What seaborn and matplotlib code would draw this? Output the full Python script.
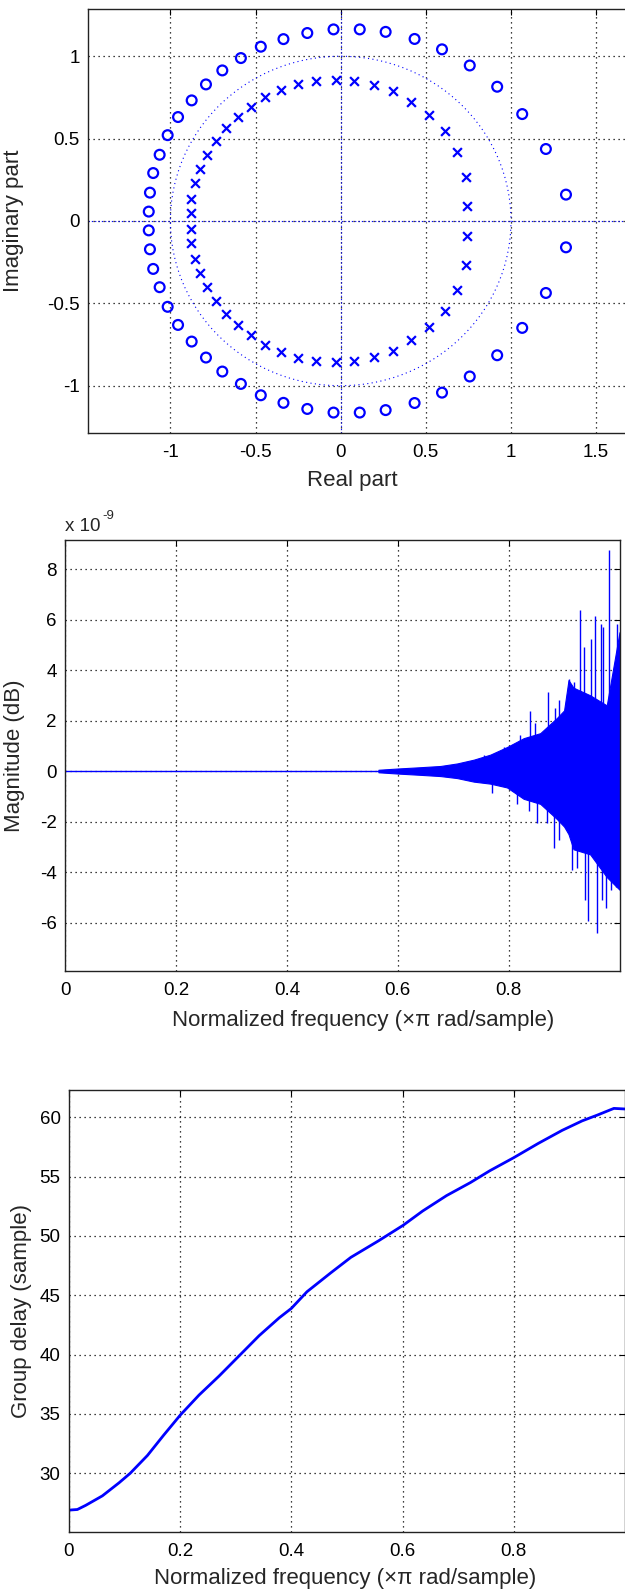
import matplotlib
matplotlib.use("Agg")
import numpy as np
import pandas as pd
import seaborn as sns
import matplotlib.pyplot as plt
from matplotlib.patches import Circle

# ---------------- data ----------------
# zeros (upper half, conjugates mirrored)
zero_re = [-1.127, -1.120, -1.101, -1.063, -1.016, -0.955, -0.875, -0.791, -0.695, -0.586,
           -0.469, -0.336, -0.196, -0.042, 0.112, 0.264, 0.434, 0.595, 0.758, 0.919,
           1.066, 1.205, 1.323]
zero_im = [0.057, 0.172, 0.291, 0.402, 0.521, 0.631, 0.732, 0.829, 0.914, 0.989,
           1.058, 1.104, 1.141, 1.163, 1.163, 1.148, 1.105, 1.042, 0.944, 0.815,
           0.649, 0.437, 0.160]
# poles (upper half, conjugates mirrored)
pole_re = [-0.880, -0.877, -0.856, -0.824, -0.784, -0.733, -0.674, -0.604, -0.527, -0.446,
           -0.348, -0.250, -0.145, -0.030, 0.081, 0.193, 0.305, 0.414, 0.517, 0.610,
           0.682, 0.735, 0.742]
pole_im = [0.047, 0.135, 0.231, 0.317, 0.400, 0.485, 0.564, 0.633, 0.690, 0.750,
           0.795, 0.829, 0.847, 0.855, 0.848, 0.825, 0.790, 0.722, 0.642, 0.546,
           0.417, 0.267, 0.092]

# magnitude response (units of 1e-9 dB)
mag_base_f = [0.0, 1.0]
mag_base_v = [0.0, 0.0]
band_f = [0.565, 0.600, 0.640, 0.677, 0.707, 0.737, 0.767, 0.797, 0.827, 0.857,
          0.887, 0.900, 0.908, 0.917, 0.947, 0.977, 1.000]
band_hi = [0.05, 0.10, 0.15, 0.20, 0.30, 0.45, 0.65, 0.95, 1.30, 1.50,
           2.10, 2.40, 3.60, 3.30, 3.00, 2.60, 5.50]
band_lo = [-0.05, -0.10, -0.15, -0.20, -0.28, -0.42, -0.50, -0.65, -1.10, -1.30,
           -1.90, -2.20, -2.50, -3.10, -3.30, -4.20, -4.70]
spike_f = [0.755, 0.791, 0.821, 0.838, 0.847, 0.871, 0.883, 0.890, 0.899, 0.909,
           0.918, 0.929, 0.936, 0.948, 0.956, 0.966, 0.971, 0.981, 0.989, 0.996,
           0.770, 0.806, 0.815, 0.837, 0.852, 0.870, 0.882, 0.891, 0.915, 0.924,
           0.937, 0.944, 0.959, 0.968, 0.976, 0.985, 0.994]
spike_v = [0.63, 0.96, 1.42, 2.38, 1.90, 3.14, 2.48, 2.80, 2.00, 3.66,
           3.54, 6.37, 4.92, 5.24, 6.13, 5.81, 5.71, 8.74, 3.73, 5.84,
           -0.88, -0.75, -1.31, -1.57, -2.07, -2.07, -3.06, -2.73, -3.92, -3.85,
           -5.10, -5.93, -6.40, -5.10, -5.44, -4.70, -4.60]

# group delay
gd_f = [0.0, 0.015, 0.03, 0.06, 0.09, 0.11, 0.141, 0.170, 0.200, 0.234, 0.270, 0.306,
        0.342, 0.378, 0.400, 0.428, 0.471, 0.507, 0.557, 0.601, 0.636, 0.679,
        0.722, 0.757, 0.800, 0.844, 0.887, 0.923, 0.951, 0.980, 1.000]
gd_v = [26.9, 26.95, 27.3, 28.1, 29.2, 30.0, 31.5, 33.2, 34.9, 36.6, 38.2, 39.9,
        41.6, 43.1, 43.9, 45.3, 46.9, 48.2, 49.6, 50.9, 52.1, 53.4,
        54.5, 55.5, 56.6, 57.8, 58.9, 59.7, 60.2, 60.75, 60.7]

pz_xticks = [-1, -0.5, 0, 0.5, 1, 1.5]
pz_xticklabels = ["-1", "-0.5", "0", "0.5", "1", "1.5"]
pz_yticks = [-1, -0.5, 0, 0.5, 1]
pz_yticklabels = ["-1", "-0.5", "0", "0.5", "1"]
f_ticks = [0, 0.2, 0.4, 0.6, 0.8]
f_ticklabels = ["0", "0.2", "0.4", "0.6", "0.8"]
mag_yticks = [-6, -4, -2, 0, 2, 4, 6, 8]
gd_yticks = [30, 35, 40, 45, 50, 55, 60]

# ---------------- style ----------------
sns.set_theme(style="white")
plt.rcParams["font.family"] = ["Liberation Sans", "DejaVu Sans"]
plt.rcParams["axes.unicode_minus"] = False

BLUE = (0, 0, 1)
W, H = 625, 1593
LABEL_FS = 16
TICK_FS = 13.5
fig = plt.figure(figsize=(W / 100, H / 100), dpi=100)


def add_ax(left, right, top, bottom):
    return fig.add_axes([left / W, 1 - bottom / H, (right - left) / W, (bottom - top) / H])


def style(ax):
    ax.grid(True, color="black", linestyle=(0, (1, 3)), linewidth=0.9)
    ax.set_axisbelow(True)
    ax.tick_params(axis="both", direction="in", top=True, right=True, length=4,
                   width=0.8, labelsize=TICK_FS, colors="black")
    ax.tick_params(axis="x", pad=8)
    ax.tick_params(axis="y", pad=6)
    for s in ax.spines.values():
        s.set_color("#222222")
        s.set_linewidth(1.0)
        s.set_visible(True)


# ---------------- pole-zero plot ----------------
ax1 = add_ax(88.3, 638.7, 9.3, 432.5)
style(ax1)
zdf = pd.DataFrame({"re": zero_re + zero_re, "im": zero_im + [-v for v in zero_im]})
pdf = pd.DataFrame({"re": pole_re + pole_re, "im": pole_im + [-v for v in pole_im]})
ax1.add_patch(Circle((0, 0), 1.0, fill=False, edgecolor=BLUE, linestyle=(0, (1, 3)), linewidth=0.8))
ax1.axhline(0, color=BLUE, linestyle=(0, (1, 2)), linewidth=0.8)
ax1.axvline(0, color=BLUE, linestyle=(0, (1, 2)), linewidth=0.8)
sns.scatterplot(data=zdf, x="re", y="im", ax=ax1, marker="o", s=50,
                facecolor="none", edgecolor=BLUE, linewidth=1.6, zorder=3)
sns.scatterplot(data=pdf, x="re", y="im", ax=ax1, marker="x", s=40,
                color=BLUE, linewidth=1.6, zorder=3)
ax1.set_xlim(-1.482, 1.75)
ax1.set_ylim(-1.284, 1.285)
ax1.set_xticks(pz_xticks)
ax1.set_xticklabels(pz_xticklabels)
ax1.set_yticks(pz_yticks)
ax1.set_yticklabels(pz_yticklabels)
ax1.set_xlabel("Real part", fontsize=LABEL_FS)
ax1.set_ylabel("Imaginary part", fontsize=LABEL_FS)
ax1.xaxis.set_label_coords(0.48, -0.089)
ax1.yaxis.set_label_coords(-0.117, 0.5)

# ---------------- magnitude plot ----------------
ax2 = add_ax(65.3, 619.5, 540, 971)
style(ax2)
sns.lineplot(x=mag_base_f, y=mag_base_v, ax=ax2, color=BLUE, linewidth=1.0)
ax2.fill_between(band_f, band_lo, band_hi, color=BLUE, linewidth=0.8, edgecolor=BLUE)
ax2.vlines(spike_f, 0, spike_v, color=BLUE, linewidth=1.0)
ax2.set_xlim(0, 1)
ax2.set_ylim(-7.92, 9.15)
ax2.set_xticks(f_ticks)
ax2.set_xticklabels(f_ticklabels)
ax2.set_yticks(mag_yticks)
ax2.set_yticklabels([str(v) for v in mag_yticks])
ax2.set_xlabel("Normalized frequency (\u00d7\u03c0 rad/sample)", fontsize=LABEL_FS)
ax2.set_ylabel("Magnitude (dB)", fontsize=LABEL_FS)
ax2.xaxis.set_label_coords(0.537, -0.09)
ax2.yaxis.set_label_coords(-0.073, 0.5)
fig.text(65 / W, 1 - 531 / H, "x 10", fontsize=TICK_FS, ha="left", va="baseline")
fig.text(102 / W, 1 - 519 / H, "-9", fontsize=9.5, ha="left", va="baseline")

# ---------------- group delay plot ----------------
ax3 = add_ax(69, 625, 1090, 1531.7)
style(ax3)
sns.lineplot(x=gd_f, y=gd_v, ax=ax3, color=BLUE, linewidth=2.0)
ax3.set_xlim(0, 1)
ax3.set_ylim(25.08, 62.3)
ax3.set_xticks(f_ticks)
ax3.set_xticklabels(f_ticklabels)
ax3.set_yticks(gd_yticks)
ax3.set_yticklabels([str(v) for v in gd_yticks])
ax3.set_xlabel("Normalized frequency (\u00d7\u03c0 rad/sample)", fontsize=LABEL_FS)
ax3.set_ylabel("Group delay (sample)", fontsize=LABEL_FS)
ax3.xaxis.set_label_coords(0.496, -0.082)
ax3.yaxis.set_label_coords(-0.067, 0.5)

fig.savefig("out.png", dpi=100)
